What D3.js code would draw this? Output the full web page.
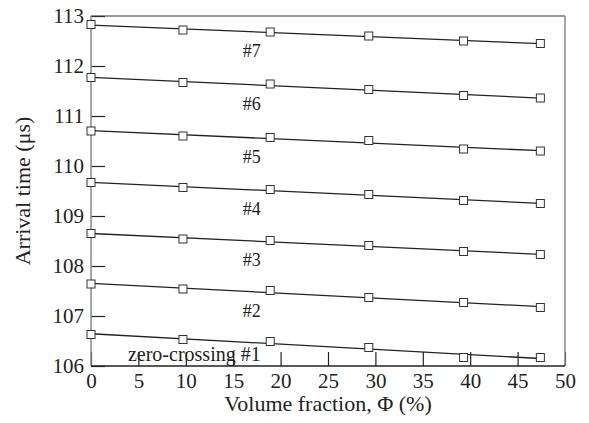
<!DOCTYPE html>
<html>
<head>
<meta charset="utf-8">
<script src="https://cdn.jsdelivr.net/npm/d3@7"></script>
</head>
<body style="margin:0; background:#fff">
<script>
// volume fraction (%) where each arrival time was measured
var fractions = [0, 9.7, 18.9, 29.3, 39.3, 47.4];

// arrival times (us), one array per zero-crossing
var zc1 = [106.63, 106.53, 106.49, 106.37, 106.17, 106.17];
var zc2 = [107.64, 107.54, 107.51, 107.37, 107.27, 107.17];
var zc3 = [108.65, 108.54, 108.51, 108.41, 108.29, 108.23];
var zc4 = [109.67, 109.57, 109.53, 109.43, 109.31, 109.25];
var zc5 = [110.70, 110.60, 110.57, 110.51, 110.34, 110.30];
var zc6 = [111.77, 111.67, 111.64, 111.53, 111.41, 111.36];
var zc7 = [112.83, 112.72, 112.68, 112.60, 112.50, 112.45];

var seriesLabels = ["zero-crossing #1", "#2", "#3", "#4", "#5", "#6", "#7"];
var xTicks = [0, 5, 10, 15, 20, 25, 30, 35, 40, 45, 50];
var yTicks = [106, 107, 108, 109, 110, 111, 112, 113];

var allSeries = [zc1, zc2, zc3, zc4, zc5, zc6, zc7];

var width = 589, height = 423;
var margin = {top: 16, right: 24, bottom: 57, left: 91};
var serif = "'Liberation Serif'";

var svg = d3.select("body").append("svg")
    .attr("width", width)
    .attr("height", height);

var x = d3.scaleLinear().domain([0, 50]).range([margin.left, width - margin.right]);
var y = d3.scaleLinear().domain([106, 113]).range([height - margin.bottom, margin.top]);

// least squares line through one series
function fit(ys) {
    var mx = d3.mean(fractions), my = d3.mean(ys);
    var num = 0, den = 0;
    fractions.forEach(function (f, i) {
        num += (f - mx) * (ys[i] - my);
        den += (f - mx) * (f - mx);
    });
    var b = num / den;
    return function (f) { return my + b * (f - mx); };
}

// inward ticks on the left and bottom
var xAxis = d3.axisBottom(x).tickValues(xTicks).tickFormat(d3.format("d")).tickSize(-14).tickPadding(7);
var yAxis = d3.axisLeft(y).tickValues(yTicks).tickFormat(d3.format("d")).tickSize(-14).tickPadding(7);

var gx = svg.append("g")
    .attr("transform", "translate(0," + y(106) + ")")
    .call(xAxis);
var gy = svg.append("g")
    .attr("transform", "translate(" + x(0) + ",0)")
    .call(yAxis);

[gx, gy].forEach(function (g) {
    g.attr("font-family", null).attr("font-size", null);
    g.select(".domain").remove();
    g.selectAll(".tick line").attr("stroke", "#222").attr("stroke-width", 1.2);
    g.selectAll(".tick text")
        .style("font-family", serif)
        .style("font-size", "21px")
        .attr("fill", "#222");
});
// y labels centred on the tick
gy.selectAll(".tick text").attr("dy", "0.32em");
gx.selectAll(".tick text").attr("dy", "0.72em");

// frame
svg.append("line").attr("x1", x(0)).attr("x2", x(50)).attr("y1", y(113)).attr("y2", y(113))
    .attr("stroke", "#333").attr("stroke-width", 1.2);
svg.append("line").attr("x1", x(50)).attr("x2", x(50)).attr("y1", y(113)).attr("y2", y(106))
    .attr("stroke", "#888").attr("stroke-width", 1.5);
svg.append("line").attr("x1", x(0)).attr("x2", x(0)).attr("y1", y(113)).attr("y2", y(106))
    .attr("stroke", "#888").attr("stroke-width", 1.5);
svg.append("line").attr("x1", x(0)).attr("x2", x(50)).attr("y1", y(106)).attr("y2", y(106))
    .attr("stroke", "#222").attr("stroke-width", 1.5);

var line = d3.line()
    .x(function (d) { return x(d[0]); })
    .y(function (d) { return y(d[1]); });

var first = fractions[0], last = fractions[fractions.length - 1];

allSeries.forEach(function (ys, i) {
    var f = fit(ys);

    svg.append("path")
        .attr("d", line([[first, f(first)], [last, f(last)]]))
        .attr("fill", "none")
        .attr("stroke", "#222")
        .attr("stroke-width", 1.3);

    svg.append("g").selectAll("rect")
        .data(ys)
        .enter().append("rect")
        .attr("x", function (d, j) { return x(fractions[j]) - 4; })
        .attr("y", function (d) { return y(d) - 4; })
        .attr("width", 8)
        .attr("height", 8)
        .attr("fill", "#fff")
        .attr("stroke", "#333")
        .attr("stroke-width", 1);

    // label sits under the line, right edge near 18%
    var lx = 17.9;
    svg.append("text")
        .attr("x", x(lx))
        .attr("y", y(f(lx)) + (i === 0 ? 18 : 25))
        .attr("text-anchor", "end")
        .style("font-family", serif)
        .style("font-size", i === 0 ? "20px" : "18px")
        .attr("fill", "#222")
        .text(seriesLabels[i]);
});

// axis titles
svg.append("text")
    .attr("x", (x(0) + x(50)) / 2)
    .attr("y", 411)
    .attr("text-anchor", "middle")
    .style("font-family", serif)
    .style("font-size", "22px")
    .attr("fill", "#222")
    .text("Volume fraction, Φ (%)");

svg.append("text")
    .attr("transform", "translate(30," + ((y(106) + y(113)) / 2) + ") rotate(-90)")
    .attr("text-anchor", "middle")
    .style("font-family", serif)
    .style("font-size", "22px")
    .attr("fill", "#222")
    .text("Arrival time (μs)");
</script>
</body>
</html>
